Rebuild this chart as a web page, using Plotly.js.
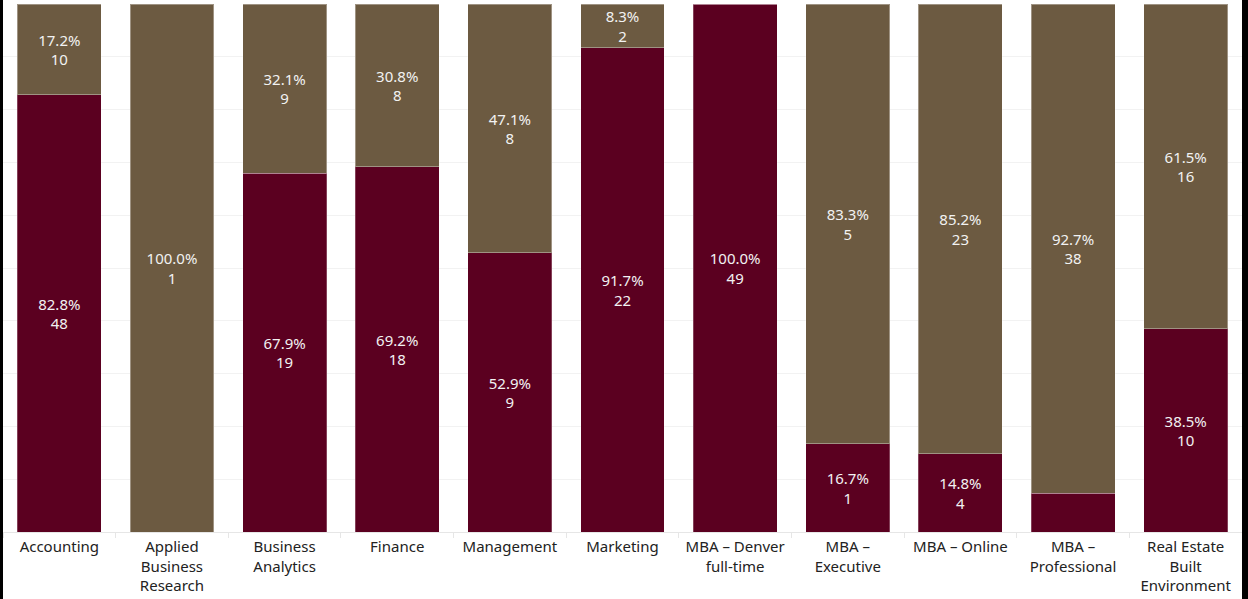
<!DOCTYPE html>
<html>
<head>
<meta charset="utf-8">
<script src="https://cdn.plot.ly/plotly-3.0.1.min.js"></script>
<style>
html,body{margin:0;padding:0;background:#fff;}
#wrap{width:1248px;height:599px;box-sizing:border-box;border-left:3px solid #000;border-right:6px solid #000;overflow:hidden;}
#chart{width:1239px;height:599px;}
</style>
</head>
<body>
<div id="wrap"><div id="chart"></div></div>
<script>
const categories = [
  "Accounting",
  "Applied<br>Business<br>Research",
  "Business<br>Analytics",
  "Finance",
  "Management",
  "Marketing",
  "MBA – Denver<br>full-time",
  "MBA –<br>Executive",
  "MBA – Online",
  "MBA –<br>Professional",
  "Real Estate<br>Built<br>Environment"
];
// maroon (bottom) segment
const maroonPct   = [82.8, 0, 67.9, 69.2, 52.9, 91.7, 100.0, 16.7, 14.8, 7.3, 38.5];
const maroonCount = [48, 0, 19, 18, 9, 22, 49, 1, 4, 3, 10];
const maroonShowLabel = [true, false, true, true, true, true, true, true, true, false, true];
// brown (top) segment
const brownPct   = [17.2, 100.0, 32.1, 30.8, 47.1, 8.3, 0, 83.3, 85.2, 92.7, 61.5];
const brownCount = [10, 1, 9, 8, 8, 2, 0, 5, 23, 38, 16];
const brownShowLabel = [true, true, true, true, true, true, false, true, true, true, true];

function labels(pct, cnt, show) {
  return pct.map((p, i) => show[i] ? p.toFixed(1) + "%<br>" + cnt[i] : "");
}

const MAROON = "#5b0020";
const BROWN = "#6c5a41";
const textFont = {family: "Noto Sans, Open Sans, sans-serif", size: 15, color: "#f2f2f2"};

const traces = [
  {
    type: "bar", x: categories, y: maroonPct,
    text: labels(maroonPct, maroonCount, maroonShowLabel),
    textposition: "inside", insidetextanchor: "middle", textangle: 0,
    constraintext: "none", textfont: textFont, hoverinfo: "none",
    marker: {color: MAROON, line: {color: "rgba(255,255,255,0.25)", width: 1}}
  },
  {
    type: "bar", x: categories, y: brownPct,
    text: labels(brownPct, brownCount, brownShowLabel),
    textposition: "inside", insidetextanchor: "middle", textangle: 0,
    constraintext: "none", textfont: textFont, hoverinfo: "none",
    marker: {color: BROWN, line: {color: "rgba(255,255,255,0.35)", width: 1}}
  }
];

const layout = {
  width: 1239, height: 599,
  margin: {l: 0, r: 0, t: 4, b: 67},
  barmode: "stack",
  bargap: 0.255,
  showlegend: false,
  paper_bgcolor: "#fff",
  plot_bgcolor: "#fff",
  font: {family: "Noto Sans, Open Sans, sans-serif", size: 15, color: "#222"},
  xaxis: {
    type: "category",
    showgrid: false,
    showline: true, linecolor: "#e6e6e6", linewidth: 1,
    ticks: "outside", tickson: "boundaries", ticklen: 5, tickcolor: "#e6e6e6",
    ticklabelstandoff: 1,
    tickfont: {family: "Noto Sans, Open Sans, sans-serif", size: 15, color: "#222"},
    automargin: false
  },
  yaxis: {
    range: [0, 100], dtick: 10,
    showticklabels: false, showgrid: true, gridcolor: "#f2f2f2", gridwidth: 1,
    zeroline: false, showline: false, fixedrange: true
  }
};

Plotly.newPlot("chart", traces, layout, {displayModeBar: false, staticPlot: true});
</script>
</body>
</html>
